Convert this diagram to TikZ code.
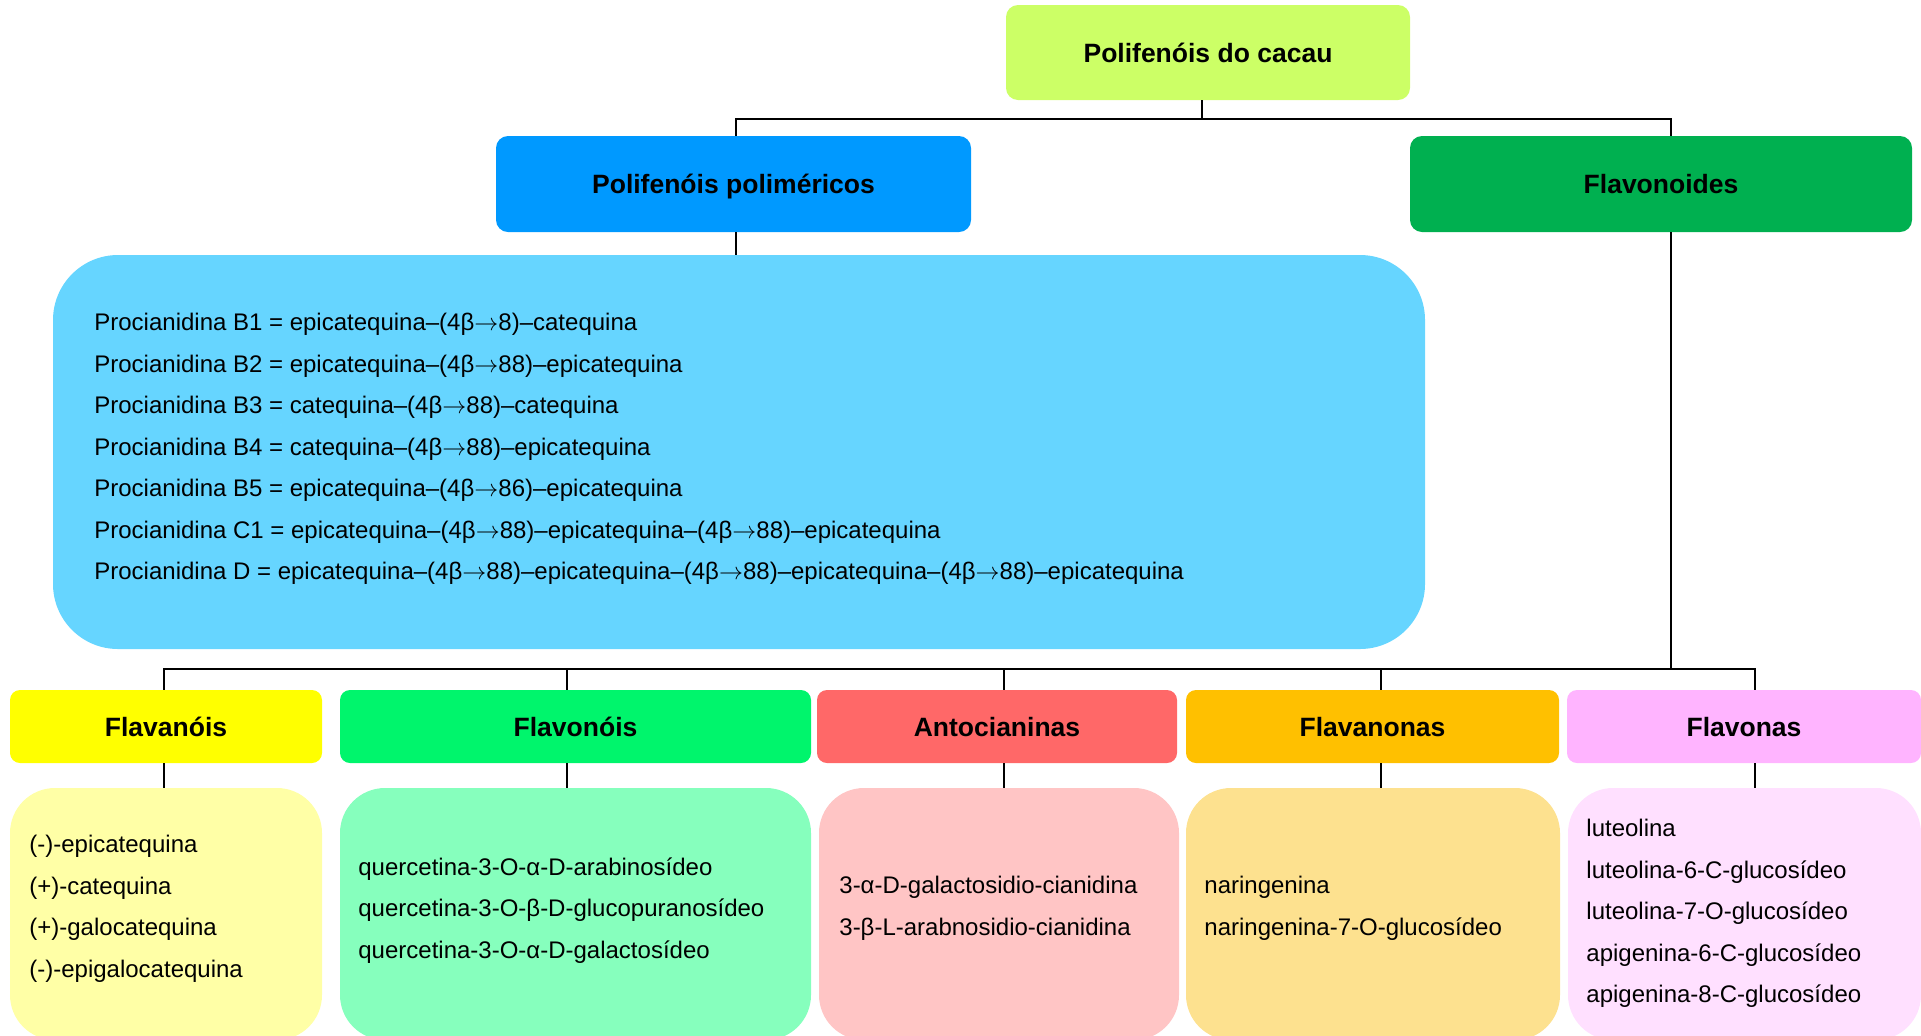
\documentclass[tikz,border=0pt]{standalone}
\usepackage{fontspec}
\setmainfont{Liberation Sans}
\newcommand{\arw}{\ensuremath{\mathord{\rightarrow}}}
\definecolor{ctop}{RGB}{204,255,102}
\definecolor{cpolim}{RGB}{0,153,255}
\definecolor{cflavo}{RGB}{0,176,80}
\definecolor{cbig}{RGB}{102,213,255}
\definecolor{hA}{RGB}{255,255,0}
\definecolor{bA}{RGB}{255,255,166}
\definecolor{hB}{RGB}{0,245,108}
\definecolor{bB}{RGB}{134,255,189}
\definecolor{hC}{RGB}{255,104,104}
\definecolor{bC}{RGB}{255,197,197}
\definecolor{hD}{RGB}{255,192,0}
\definecolor{bD}{RGB}{253,225,143}
\definecolor{hE}{RGB}{255,180,255}
\definecolor{bE}{RGB}{255,224,255}
\tikzset{
  topbox/.style={inner sep=0pt, rounded corners=6pt, minimum height=48pt, text height=9.5pt, text depth=0pt, font=\bfseries\fontsize{13.25}{16}\selectfont},
  headbox/.style={inner sep=0pt, rounded corners=5pt, minimum height=36.5pt, text height=9.5pt, text depth=0pt, font=\bfseries\fontsize{13.25}{16}\selectfont},
  listbox/.style={inner sep=0pt, rounded corners=22.5pt, minimum height=126pt},
  listtext/.style={inner sep=0pt, anchor=north west, align=left, font=\fontsize{12}{20.75}\selectfont},
  conn/.style={draw=black, line width=0.8pt}
}
\begin{document}
\begin{tikzpicture}[x=0.5pt,y=-0.5pt]
\useasboundingbox (0,0) rectangle (1921,1035);
\clip (0,0) rectangle (1921,1035);
% top level
\node[topbox, fill=ctop, minimum width=202pt, minimum height=47.5pt] (top) at (1208,52.5) {Polifenóis do cacau};
\node[topbox, fill=cpolim, minimum width=237.5pt] (polim) at (733.5,184) {Polifenóis poliméricos};
\node[topbox, fill=cflavo, minimum width=251pt] (flavo) at (1661,184) {Flavonoides};
\node[inner sep=0pt, rounded corners=32.5pt, fill=cbig, minimum width=686pt, minimum height=197pt] (big) at (739,452) {};
\node[listtext] (bigtxt) at (94,313) {Procianidina B1 = epicatequina–(4β\arw8)–catequina\\
Procianidina B2 = epicatequina–(4β\arw88)–epicatequina\\
Procianidina B3 = catequina–(4β\arw88)–catequina\\
Procianidina B4 = catequina–(4β\arw88)–epicatequina\\
Procianidina B5 = epicatequina–(4β\arw86)–epicatequina\\
Procianidina C1 = epicatequina–(4β\arw88)–epicatequina–(4β\arw88)–epicatequina\\
Procianidina D = epicatequina–(4β\arw88)–epicatequina–(4β\arw88)–epicatequina–(4β\arw88)–epicatequina};
% headings bottom
\node[headbox, fill=hA, minimum width=156pt] (h1) at (166,726.5) {Flavanóis};
\node[headbox, fill=hB, minimum width=235.5pt] (h2) at (575.5,726.5) {Flavonóis};
\node[headbox, fill=hC, minimum width=180pt] (h3) at (997,726.5) {Antocianinas};
\node[headbox, fill=hD, minimum width=186.5pt] (h4) at (1372.5,726.5) {Flavanonas};
\node[headbox, fill=hE, minimum width=177pt] (h5) at (1744,726.5) {Flavonas};
% list boxes
\node[listbox, fill=bA, minimum width=156pt] (c1) at (166,914) {};
\node[listbox, fill=bB, minimum width=235.5pt] (c2) at (575.5,914) {};
\node[listbox, fill=bC, minimum width=180pt] (c3) at (999,914) {};
\node[listbox, fill=bD, minimum width=187pt] (c4) at (1373,914) {};
\node[listbox, fill=bE, minimum width=176.5pt] (c5) at (1744.5,914) {};
\node[listtext] (t1) at (29,835) {(-)-epicatequina\\(+)-catequina\\(+)-galocatequina\\(-)-epigalocatequina};
\node[listtext] (t2) at (358,857) {quercetina-3-O-α-D-arabinosídeo\\quercetina-3-O-β-D-glucopuranosídeo\\quercetina-3-O-α-D-galactosídeo};
\node[listtext] (t3) at (839,876) {3-α-D-galactosidio-cianidina\\3-β-L-arabnosidio-cianidina};
\node[listtext] (t4) at (1204,876) {naringenina\\naringenina-7-O-glucosídeo};
\node[listtext] (t5) at (1586,819) {luteolina\\luteolina-6-C-glucosídeo\\luteolina-7-O-glucosídeo\\apigenina-6-C-glucosídeo\\apigenina-8-C-glucosídeo};
% connectors
\coordinate (j1) at (1202,119);
\coordinate (j2) at (1671,669);
\draw[conn] ([xshift=-3pt]top.south) -- (j1);
\draw[conn] ([xshift=1.25pt]polim.north) |- (j1) -| ([xshift=5pt]flavo.north);
\draw[conn] ([xshift=1.25pt]polim.south) -- ([xshift=1.25pt]polim.south |- big.north);
\draw[conn] ([xshift=5pt]flavo.south) -- (j2);
\draw[conn] ([xshift=-1pt]h1.north) |- (j2) -| ([xshift=5.5pt]h5.north);
\draw[conn] ([xshift=-4.25pt]h2.north) -- ([xshift=-4.25pt]h2.north |- j2);
\draw[conn] ([xshift=3.5pt]h3.north) -- ([xshift=3.5pt]h3.north |- j2);
\draw[conn] ([xshift=4.25pt]h4.north) -- ([xshift=4.25pt]h4.north |- j2);
\draw[conn] ([xshift=-1pt]h1.south) -- ([xshift=-1pt]h1.south |- c1.north);
\draw[conn] ([xshift=-4.25pt]h2.south) -- ([xshift=-4.25pt]h2.south |- c2.north);
\draw[conn] ([xshift=3.5pt]h3.south) -- ([xshift=3.5pt]h3.south |- c3.north);
\draw[conn] ([xshift=4.25pt]h4.south) -- ([xshift=4.25pt]h4.south |- c4.north);
\draw[conn] ([xshift=5.5pt]h5.south) -- ([xshift=5.5pt]h5.south |- c5.north);
\end{tikzpicture}
\end{document}
